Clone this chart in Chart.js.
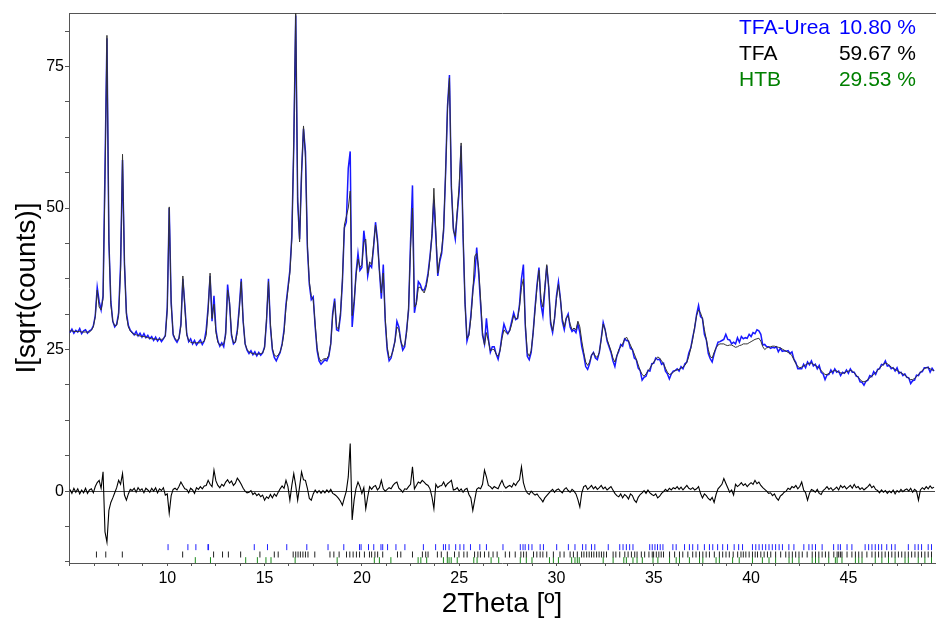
<!DOCTYPE html>
<html>
  <head>
    <style>
      body { margin: 0; background: #fff; }
      canvas { display: block; }
    </style>
    <script src="https://cdn.jsdelivr.net/npm/chart.js"></script>
  </head>
  <body>
    <canvas id="rietveldChart" width="940" height="621"></canvas>

    <script>
      // step scan: 5.0 .. 49.4 deg, 0.1 deg step
      var startAngle = 5.0;
      var stepAngle = 0.1;

      // observed intensity, sqrt(counts)
      var yObs = [
        28.0, 28.6, 27.9, 28.4, 28.1, 28.7, 27.8, 28.3, 28.5, 27.9,
        28.3, 28.5, 29.2, 31.0, 36.0, 33.5, 32.0, 34.5, 57.0, 80.0,
        44.0, 33.5, 30.0, 29.0, 29.5, 31.5, 40.0, 58.5, 40.0, 31.5,
        29.3, 28.4, 28.0, 27.6, 28.2, 27.4, 27.9, 27.2, 27.8, 27.1,
        27.5, 26.9, 27.3, 26.6, 27.2, 26.5, 27.0, 26.4, 26.9, 27.5,
        32.5, 50.0, 33.5, 27.6, 26.8, 26.3, 27.0, 29.5, 37.5, 33.0,
        27.8, 26.4, 26.9, 26.0, 26.6, 25.8, 26.3, 26.7, 25.9, 26.5,
        28.5, 32.5, 38.0, 30.0, 34.5, 28.5, 26.5, 25.6, 26.2, 25.5,
        28.0, 36.5, 33.0, 27.5, 26.0, 26.4, 28.5, 32.5, 37.5, 30.0,
        26.0, 24.9, 24.3, 24.8, 24.1, 24.6, 23.9, 24.5, 24.0, 24.4,
        25.5, 30.0, 37.5, 29.0, 25.0, 23.6, 23.0, 23.8, 24.5, 26.0,
        28.5, 33.0, 36.0, 39.0, 45.0, 61.0, 84.0, 51.0, 44.5, 56.0,
        64.0, 60.0, 43.0, 36.5, 33.8, 34.3, 29.0, 24.8, 23.0, 22.4,
        22.8, 23.2, 23.0, 23.8, 26.0, 31.5, 34.0, 28.5, 28.3, 31.0,
        37.0, 46.5, 47.5, 57.0, 60.0, 29.0, 33.0, 38.5, 42.0, 39.0,
        39.5, 46.0, 43.0, 38.0, 40.0, 39.5, 43.0, 47.5, 44.5, 39.0,
        34.0, 40.0, 30.0, 25.0, 23.0, 23.5, 25.0, 26.5, 30.0, 29.0,
        26.5, 24.9, 25.5, 28.5, 32.0, 44.0, 54.0, 31.5, 33.5, 37.0,
        36.5, 35.5, 35.5, 36.5, 38.5, 41.5, 45.0, 51.5, 45.0, 38.0,
        40.5, 42.0, 46.0, 56.0, 68.0, 73.5, 53.5, 46.5, 44.5, 49.0,
        53.0, 61.0, 45.0, 33.5, 26.5, 27.8, 31.0, 35.5, 38.0, 43.0,
        38.5, 33.0, 27.5, 26.0, 30.5, 27.0, 24.5, 25.5, 25.5, 24.2,
        23.3, 25.0, 27.5, 29.5, 28.5, 27.8, 28.5, 30.0, 31.5, 30.3,
        30.5, 33.0, 37.5, 40.0, 29.0, 23.8, 23.2, 24.5, 28.0, 32.5,
        36.5, 39.5, 33.0, 31.0, 35.5, 39.8, 36.0, 29.5, 28.0, 30.5,
        34.5, 37.0, 34.0, 30.0, 28.5, 30.5, 31.3, 29.0, 28.2, 28.5,
        28.0, 29.5, 28.0, 25.5, 24.0, 22.0, 21.5, 22.5, 24.0, 24.5,
        23.5, 23.2, 24.5, 27.0, 29.8, 28.5, 26.5, 25.5, 24.5, 23.0,
        22.0, 23.9, 24.7, 25.9, 25.6, 26.9, 26.6, 26.5, 25.2, 25.0,
        23.5, 23.2, 21.7, 21.3, 19.6, 20.1, 20.3, 21.3, 21.2, 22.5,
        22.6, 23.5, 23.2, 23.3, 22.4, 22.6, 21.2, 20.7, 19.8, 20.7,
        21.2, 21.3, 21.6, 21.2, 22.0, 21.6, 22.5, 22.8, 24.4, 25.3,
        27.2, 28.8, 31.2, 32.8, 30.8, 30.5, 27.7, 26.7, 24.3, 23.4,
        22.8, 24.2, 25.3, 26.3, 26.4, 26.6, 26.8, 27.7, 26.8, 26.7,
        26.0, 26.3, 26.0, 27.1, 26.3, 27.3, 26.9, 27.1, 27.0, 27.7,
        27.3, 28.0, 27.8, 28.5, 28.3, 27.7, 25.8, 25.9, 25.5, 25.5,
        25.2, 25.4, 25.3, 25.5, 24.6, 25.2, 24.7, 24.8, 24.7, 24.8,
        24.3, 24.6, 23.3, 22.7, 21.6, 21.6, 21.6, 22.4, 21.8, 22.8,
        22.3, 23.0, 22.1, 22.4, 21.6, 22.2, 21.0, 20.7, 19.7, 20.5,
        20.6, 21.4, 20.8, 21.6, 21.0, 21.2, 20.4, 21.0, 20.8, 21.4,
        20.8, 21.6, 21.0, 21.0, 20.3, 20.2, 19.3, 19.2, 18.7, 19.4,
        19.6, 20.4, 20.2, 21.1, 20.6, 21.5, 21.6, 22.4, 22.3, 23.0,
        22.1, 22.2, 21.6, 21.8, 21.2, 21.8, 20.8, 21.0, 20.4, 20.7,
        20.1, 20.0, 19.0, 19.5, 19.6, 20.5, 20.4, 21.0, 21.1, 21.8,
        21.8, 21.9, 21.0, 21.7, 21.2
      ];

      // calculated profile
      var yCalc = [
        28.3, 28.3, 28.2, 28.2, 28.2, 28.2, 28.1, 28.1, 28.1, 28.1,
        28.1, 28.4, 29.0, 30.8, 35.5, 32.5, 32.0, 34.0, 55.0, 80.5,
        44.5, 33.0, 30.0, 29.2, 29.3, 31.0, 39.0, 59.5, 40.5, 31.0,
        29.0, 28.3, 27.9, 27.7, 27.6, 27.5, 27.4, 27.3, 27.3, 27.2,
        27.1, 27.0, 26.9, 26.9, 26.8, 26.8, 26.8, 26.8, 26.9, 27.4,
        32.0, 50.2, 33.0, 27.8, 26.9, 26.6, 26.9, 29.2, 38.0, 32.5,
        27.6, 26.6, 26.3, 26.2, 26.2, 26.2, 26.2, 26.2, 26.3, 26.5,
        27.5, 32.0, 38.5, 30.5, 33.0, 28.0, 26.3, 25.8, 25.8, 26.0,
        27.5, 35.5, 33.5, 27.8, 26.2, 26.3, 28.0, 32.0, 37.0, 30.0,
        26.0, 25.0, 24.6, 24.4, 24.3, 24.2, 24.2, 24.2, 24.3, 24.4,
        25.3, 30.5, 37.0, 29.5, 25.2, 24.0, 23.8, 24.0, 24.6, 25.8,
        28.0, 32.5, 35.5, 38.5, 44.5, 61.5, 85.0, 52.0, 44.0, 56.5,
        64.5, 59.0, 43.5, 37.0, 34.5, 33.8, 29.5, 25.3, 23.5, 22.9,
        23.3, 23.4, 23.4, 24.0, 26.0, 31.0, 33.5, 29.0, 28.6, 31.5,
        37.5, 47.0, 48.5, 50.0, 53.0, 31.0, 33.5, 38.0, 41.0, 39.5,
        40.0, 44.0, 44.5, 38.5, 40.5, 40.0, 43.5, 47.0, 44.0, 39.0,
        35.0, 38.5, 30.5, 25.5, 23.5, 23.8, 24.8, 26.5, 29.0, 28.5,
        26.5, 25.5, 25.8, 28.0, 32.5, 43.0, 50.0, 32.5, 33.0, 36.0,
        36.0, 35.5, 35.0, 36.0, 38.0, 41.0, 45.5, 53.5, 46.0, 38.5,
        41.0, 42.5, 46.5, 56.0, 67.5, 73.0, 54.0, 46.0, 45.0, 49.5,
        54.0, 61.5, 45.5, 33.0, 27.0, 27.5, 30.5, 35.0, 41.5, 42.0,
        39.5, 34.0, 28.0, 25.8, 28.0, 26.5, 24.8, 25.0, 25.0, 24.2,
        23.8, 24.8, 27.0, 28.5, 28.0, 27.8, 28.3, 29.5, 31.0, 30.5,
        30.5, 32.5, 36.0, 37.5, 29.5, 24.5, 23.8, 24.8, 28.0, 32.0,
        36.0, 39.0, 34.0, 32.5, 36.0, 40.0, 36.0, 30.0, 28.3, 30.5,
        34.0, 36.5, 34.0, 30.5, 29.0, 30.5, 31.0, 29.5, 28.5, 28.8,
        28.5, 30.0, 29.0, 26.5, 24.5, 22.8, 22.2, 22.8, 24.0, 24.5,
        23.8, 23.6, 24.5, 26.8, 29.5, 28.5, 26.8, 25.8, 24.8, 23.5,
        22.8, 23.8, 25.0, 25.5, 26.0, 26.8, 27.2, 26.5, 25.8, 25.0,
        24.2, 23.3, 22.3, 21.3, 20.6, 20.3, 20.7, 21.2, 21.7, 22.3,
        22.8, 23.3, 23.7, 23.5, 23.0, 22.5, 21.7, 21.0, 20.6, 20.7,
        21.0, 21.3, 21.4, 21.5, 21.7, 21.9, 22.2, 22.8, 23.8, 25.2,
        26.8, 29.0, 31.0, 32.0, 31.5, 30.5, 28.5, 26.8, 25.0, 23.8,
        23.5, 24.5, 25.3, 25.8, 26.0, 26.0, 26.0, 25.8, 25.7, 25.8,
        25.8, 25.6, 25.4, 25.5, 25.7, 25.8, 26.0, 26.0, 26.0, 26.2,
        26.4, 26.6, 26.8, 26.9, 27.0, 26.5, 25.5, 25.0, 25.3, 25.4,
        25.5, 25.6, 25.6, 25.5, 25.4, 25.3, 25.1, 24.9, 24.7, 24.5,
        24.3, 23.9, 23.2, 22.5, 22.0, 21.8, 21.9, 22.1, 22.3, 22.5,
        22.6, 22.6, 22.4, 22.2, 22.0, 21.7, 21.3, 20.9, 20.6, 20.6,
        20.8, 21.0, 21.2, 21.3, 21.2, 21.0, 20.9, 20.8, 20.9, 21.1,
        21.2, 21.3, 21.2, 20.9, 20.5, 20.1, 19.7, 19.4, 19.3, 19.4,
        19.7, 20.0, 20.3, 20.6, 20.9, 21.3, 21.7, 22.1, 22.4, 22.6,
        22.5, 22.2, 21.9, 21.7, 21.5, 21.3, 21.1, 20.9, 20.7, 20.5,
        20.2, 19.9, 19.7, 19.7, 19.9, 20.2, 20.6, 21.0, 21.3, 21.6,
        21.8, 21.8, 21.6, 21.4, 21.3
      ];

      // difference curve (obs - calc)
      var yDiff = [
        0.3, -0.4, 0.5, -0.2, 0.4, -0.5, 0.2, -0.3, 0.5, -0.4,
        0.2, 0.4, -0.3, 0.8, 1.5, 1.9, 0.5, 3.4, -7.2, -9.0,
        -3.4, -2.0, -1.2, -0.3, 0.6, 1.9, 1.2, 3.1, -0.7, -1.6,
        -0.5, 0.3, 0.1, 0.5, -0.2, 0.6, 0.1, 0.4, -0.3, 0.5,
        0.2, -0.2, 0.5, 0.0, 0.6, -0.3, 0.4, 0.1, 0.6, -0.7,
        -0.5, -3.9, -0.8, 0.3, 0.5, 0.2, 0.8, 1.6, 1.0, 0.4,
        0.3, -0.3, 0.5, 0.2, -0.4, 0.6, 0.3, 0.8, 0.4, 0.9,
        1.0, 1.9, 1.2, 0.8, 3.7, 1.8, 1.0, 0.6, 1.2, 0.9,
        1.6, 2.0, 1.4, 1.8, 1.0, 1.4, 2.3, 1.8, 1.2, 0.5,
        0.0, -0.3, -0.2, 0.1, -0.6, -0.3, -0.8, -0.5, -1.0, -0.7,
        -1.6, -1.0, -1.3, -0.6, -1.2, -0.5, -0.9, -0.2, 0.4, 0.9,
        0.5, 1.9, 0.8, -1.6, 1.0, 3.1, 1.0, -1.6, 0.8, 3.4,
        2.0, 1.9, 0.5, -1.3, -1.6, -0.5, 0.2, -0.3, 0.1, -0.4,
        0.1, -0.3, 0.2, -0.2, 0.3, -0.4, -0.6, -0.9, -1.3, -1.8,
        -2.5, -1.2, 0.0, 2.5, 8.4, -5.1, -1.6, 0.5, 1.6, 0.8,
        -0.4, 0.6, -3.1, -1.0, 0.8, 0.3, 0.8, 1.0, 0.2, 0.6,
        1.9, 0.4, 0.0, 0.3, 0.6, 0.4, 1.0, 1.4, 1.6, 0.5,
        0.2, -0.2, 0.4, 0.3, 0.8, 1.2, 4.3, 0.4, 1.0, 1.6,
        1.4, 1.9, 1.6, 1.2, 1.0, 0.4, -1.0, -3.1, 1.2, 0.6,
        0.9, 1.0, 1.6, 0.8, 1.3, 1.6, 1.9, 0.2, 0.3, 0.6,
        0.0, 0.4, -0.2, 0.3, 0.5, -0.6, -1.2, -3.4, -1.5, 0.3,
        0.6, 0.4, 1.2, 3.7, 2.5, 1.0, 0.8, 0.4, 0.8, 0.6,
        0.4, 1.2, 1.9, 1.0, 0.5, 0.8, 1.0, 0.7, 1.4, 1.0,
        1.6, 2.0, 4.3, 1.5, 0.3, -0.3, -0.6, 0.0, -0.4, -0.7,
        -0.5, -1.0, -1.4, -1.9, -1.2, -0.8, -0.4, 0.0, 0.3, -0.2,
        0.2, 0.4, 0.0, -0.3, 0.3, 0.6, 0.1, -0.2, 0.3, 0.0,
        -0.5, -1.5, -2.8, -0.3, 0.8, 1.0, 0.3, 0.6, 1.0, 0.4,
        0.8, 0.3, 0.6, 1.0, 0.4, 0.7, 0.2, 0.5, 0.8, 0.2,
        -0.4, -0.8, -1.0, -0.5, -1.2, -0.6, -0.9, -1.4, -0.5, -0.8,
        -1.6, -2.0, -1.1, -0.6, -0.3, 0.1, -0.4, 0.2, -0.3, -0.6,
        -0.8, -0.5, -1.2, -0.9, -0.4, -0.1, 0.3, 0.0, 0.5, 0.2,
        0.6, 0.4, 0.8, 0.3, 0.7, 0.2, 0.6, 1.0, 0.5, 0.3,
        0.6, 0.2, 0.4, 0.8, -0.4, -1.2, -0.5, -0.8, -1.3, -1.6,
        -1.1, -2.0, -0.6, 0.4, 0.8, 1.2, 2.2, 1.4, 0.6, -0.2,
        0.2, -0.7, 1.2, 0.8, 1.1, 1.5, 1.0, 1.3, 0.8, 1.2,
        1.5, 1.2, 1.9, 1.3, 1.6, 1.0, 0.6, 0.3, 0.0, -0.4,
        -0.3, -0.8, -0.5, -1.2, -1.6, -0.9, -0.6, -0.2, 0.0, 0.5,
        0.3, 0.8, 0.6, 1.0, 0.4, 0.8, 1.6, 0.2, -0.3, -1.6,
        -0.4, 0.3, 0.1, -0.2, 0.3, -0.4, -0.6, 0.1, 0.4, 0.8,
        0.3, 0.6, 0.1, 0.4, 0.7, 0.2, 1.0, 0.6, 0.9, 0.4,
        0.7, 1.0, 0.5, 1.2, 0.6, 0.8, 0.3, 0.6, 0.2, 0.5,
        0.8, 1.2, 0.6, 0.9, 0.3, 0.1, -0.3, 0.2, -0.2, 0.1,
        -0.4, 0.0, -0.3, 0.2, -0.5, 0.1, -0.2, 0.3, -0.1, 0.2,
        0.4, 0.0, 0.5, -0.2, 0.3, 0.0, -1.6, 0.2, 0.6, 0.3,
        0.8, 0.4, 0.9, 0.5, 0.7
      ];

      // reflection positions per phase (2theta)
      var tfaUreaRefl = [
        10.04, 11.06, 11.47, 12.09, 12.12, 14.47, 15.15, 16.14, 17.17, 18.26,
        19.07, 19.88, 19.96, 20.34, 20.61, 20.98, 21.07, 21.32, 21.75, 22.21,
        23.16, 23.79, 24.19, 24.30, 24.48, 24.82, 25.04, 25.24, 25.58, 26.06,
        26.40, 27.25, 28.14, 28.28, 28.39, 28.57, 28.74, 29.16, 29.33, 30.01,
        30.61, 30.95, 31.34, 31.51, 31.80, 31.97, 32.66, 33.25, 33.42, 33.59,
        33.76, 33.93, 34.79, 34.92, 35.06, 35.19, 35.33, 35.47, 35.98, 36.15,
        36.58, 36.83, 37.00, 37.26, 37.60, 37.86, 38.03, 38.28, 38.54, 38.79,
        39.13, 39.36, 39.56, 40.07, 40.24, 40.41, 40.58, 40.75, 40.92, 41.09,
        41.26, 41.44, 41.61, 41.94, 42.20, 42.71, 42.97, 43.14, 43.31, 43.65,
        44.24, 44.47, 44.59, 44.93, 45.18, 45.86, 46.04, 46.21, 46.38, 46.55,
        46.71, 46.97, 47.22, 47.40, 48.08, 48.42, 48.59, 48.76, 49.10, 49.27
      ];
      var tfaRefl = [
        6.36, 6.84, 7.69, 10.79, 12.38, 12.84, 13.14, 13.77, 14.76, 15.50,
        15.70, 16.47, 16.60, 16.72, 16.84, 16.97, 17.10, 17.23, 17.58, 18.36,
        18.56, 18.83, 19.21, 19.38, 19.55, 19.72, 19.88, 20.13, 20.39, 20.50,
        20.67, 20.81, 21.07, 21.83, 22.00, 22.60, 23.11, 23.28, 23.40, 23.88,
        24.08, 24.39, 24.76, 24.99, 25.24, 25.41, 25.79, 25.96, 26.09, 26.30,
        26.52, 26.74, 26.95, 27.37, 27.59, 27.88, 28.17, 28.31, 28.45, 28.82,
        28.99, 29.16, 29.30, 29.50, 29.84, 30.18, 30.39, 30.70, 30.87, 31.07,
        31.29, 31.41, 31.55, 31.68, 31.80, 31.92, 32.06, 32.19, 32.31, 32.43,
        32.57, 32.91, 33.05, 33.25, 33.51, 33.68, 33.85, 34.02, 34.14, 34.36,
        34.53, 34.75, 34.92, 34.99, 35.13, 35.26, 35.38, 35.50, 35.81, 36.07,
        36.32, 36.49, 36.75, 37.00, 37.17, 37.35, 37.52, 37.69, 37.86, 38.11,
        38.37, 38.54, 38.71, 38.88, 39.08, 39.31, 39.48, 39.60, 39.73, 39.90,
        40.07, 40.21, 40.33, 40.50, 40.67, 40.84, 41.01, 41.26, 41.52, 41.78,
        41.95, 42.12, 42.29, 42.46, 42.63, 42.88, 43.14, 43.31, 43.48, 43.65,
        43.82, 43.99, 44.25, 44.42, 44.50, 44.59, 44.67, 44.93, 45.18, 45.36,
        45.53, 45.70, 45.95, 46.21, 46.38, 46.55, 46.72, 46.89, 47.06, 47.23,
        47.40, 47.57, 47.74, 47.91, 48.08, 48.25, 48.42, 48.59, 48.76, 48.93,
        49.10, 49.27
      ];
      var htbRefl = [
        11.44, 12.22, 14.03, 14.63, 15.07, 15.33, 16.57, 18.73, 20.64, 20.90,
        21.49, 22.89, 23.03, 23.33, 24.19, 24.39, 24.48, 24.59, 24.90, 25.75,
        25.92, 26.64, 27.03, 28.14, 28.45, 28.74, 29.64, 29.84, 30.10, 30.78,
        30.95, 31.07, 31.17, 32.40, 32.91, 33.46, 33.59, 33.93, 34.14, 34.41,
        34.96, 35.21, 35.81, 36.15, 36.32, 36.83, 37.35, 37.52, 38.20, 38.37,
        39.05, 39.39, 40.07, 40.58, 40.92, 41.26, 41.95, 42.12, 42.46, 43.14,
        43.31, 43.48, 43.99, 44.33, 44.42, 44.67, 45.36, 45.53, 45.70, 46.38,
        46.72, 47.06, 47.40, 47.91, 48.08, 48.59, 48.93, 49.27
      ];

      var phaseNames = ['TFA-Urea', 'TFA', 'HTB'];
      var phaseFractions = [10.80, 59.67, 29.53];
      var phaseColors = ['#0000ff', '#000000', '#008000'];

      var xTickLabels = [10, 15, 20, 25, 30, 35, 40, 45];
      var yTickLabels = [0, 25, 50, 75];

      var fontFamily = '"Liberation Sans", Arial, sans-serif';

      function profile(values) {
        return values.map(function (v, i) {
          return { x: +(startAngle + i * stepAngle).toFixed(2), y: v };
        });
      }

      function reflMarks(positions, level) {
        return positions.map(function (p) { return { x: p, y: level }; });
      }

      function markDataset(positions, level, color) {
        return {
          type: 'scatter',
          data: reflMarks(positions, level),
          showLine: false,
          pointStyle: 'line',
          rotation: 90,
          radius: 3,
          borderWidth: 1,
          borderColor: color,
          backgroundColor: color,
          order: 0
        };
      }

      // phase names and fractions, top right
      var phaseLabels = {
        id: 'phaseLabels',
        afterDraw: function (chart) {
          var ctx = chart.ctx;
          ctx.save();
          ctx.font = '21px ' + fontFamily;
          ctx.textBaseline = 'middle';
          for (var i = 0; i < phaseNames.length; i++) {
            var y = 28 + i * 26;
            ctx.fillStyle = phaseColors[i];
            ctx.textAlign = 'left';
            ctx.fillText(phaseNames[i], 739, y);
            ctx.textAlign = 'right';
            ctx.fillText(phaseFractions[i].toFixed(2) + ' %', 916, y);
          }
          ctx.restore();
        }
      };

      Chart.defaults.color = '#000';
      Chart.defaults.font.family = fontFamily;

      var ctx = document.getElementById('rietveldChart').getContext('2d');
      new Chart(ctx, {
        type: 'line',
        data: {
          datasets: [
            {
              label: 'calc',
              data: profile(yCalc),
              borderColor: '#333333',
              borderWidth: 1,
              pointRadius: 0,
              tension: 0,
              order: 1
            },
            {
              label: 'obs',
              data: profile(yObs),
              borderColor: '#1818ff',
              borderWidth: 1.5,
              pointRadius: 0,
              tension: 0,
              order: 2
            },
            {
              label: 'diff',
              data: profile(yDiff),
              borderColor: '#000000',
              borderWidth: 1.1,
              pointRadius: 0,
              tension: 0,
              order: 3
            },
            markDataset(tfaUreaRefl, -9.9, '#2020ff'),
            markDataset(tfaRefl, -11.2, '#222222'),
            markDataset(htbRefl, -12.2, '#1a8a1a')
          ]
        },
        options: {
          responsive: false,
          animation: false,
          devicePixelRatio: 1,
          layout: { padding: { top: 13, right: 0, left: 0, bottom: 0 } },
          plugins: { legend: { display: false }, tooltip: { enabled: false } },
          scales: {
            x: {
              type: 'linear',
              min: 4.95,
              max: 49.45,
              afterFit: function (s) { s.height = 58; },
              ticks: {
                stepSize: 1.25,
                autoSkip: false,
                includeBounds: false,
                maxRotation: 0,
                padding: 3,
                font: { size: 16 },
                callback: function (v) { return xTickLabels.indexOf(v) >= 0 ? v : ''; }
              },
              grid: { drawOnChartArea: false, tickLength: 3, tickColor: '#555' },
              border: { color: '#555' },
              title: { display: true, text: '2Theta [º]', font: { size: 28 }, padding: 0 }
            },
            xTop: {
              type: 'linear',
              position: 'top',
              afterFit: function (s) { s.height = 0; },
              ticks: { display: false },
              grid: { display: false },
              border: { color: '#555' }
            },
            y: {
              min: -12.7,
              max: 84.45,
              afterFit: function (s) { s.width = 69; },
              ticks: {
                stepSize: 6.25,
                autoSkip: false,
                includeBounds: false,
                padding: 1,
                font: { size: 16 },
                callback: function (v) { return yTickLabels.indexOf(v) >= 0 ? v : ''; }
              },
              grid: {
                color: function (c) { return c.tick && c.tick.value === 0 ? '#444' : 'rgba(0,0,0,0)'; },
                tickColor: '#555',
                tickLength: 4
              },
              border: { color: '#555' },
              title: { display: true, text: 'I[sqrt(counts)]', font: { size: 28 }, padding: { top: 10 } }
            }
          }
        },
        plugins: [phaseLabels]
      });
    </script>
  </body>
</html>
